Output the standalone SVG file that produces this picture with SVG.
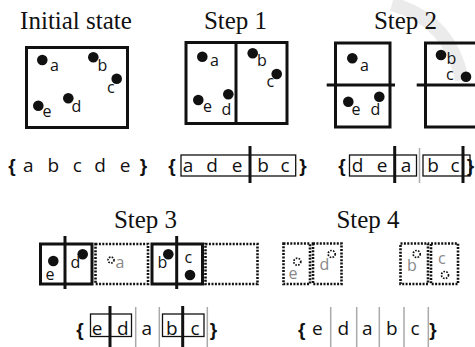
<svg xmlns="http://www.w3.org/2000/svg" width="475" height="347" viewBox="0 0 475 347">
<style>
.title{font-family:"Liberation Serif","Times New Roman",serif;font-size:25px;fill:#111;text-anchor:middle}
.lbl{font-family:"Open Sans","DejaVu Sans",sans-serif;font-size:16px;fill:#111}
.glbl{font-family:"Open Sans","DejaVu Sans",sans-serif;font-size:16px;fill:#888}
.seq{font-family:"Open Sans","DejaVu Sans",sans-serif;font-size:19px;fill:#111;text-anchor:middle}
.br{font-family:"Liberation Sans",Arial,sans-serif;font-size:19px;font-weight:bold;fill:#111;text-anchor:middle}
.box{fill:none;stroke:#111;stroke-width:3}
.dbox{fill:none;stroke:#111;stroke-width:2.6;stroke-dasharray:2 1.4}
.thick{stroke:#111;stroke-width:3}
.sbox{fill:none;stroke:#111;stroke-width:1.3}
.gl{stroke:#aaa;stroke-width:1.5}
.dot{fill:#111}
.ddot{fill:none;stroke:#111;stroke-width:1.7;stroke-dasharray:1.6 1.3}
</style>
<path d="M392,4 Q450,20 462,80" fill="none" stroke="#ddd" stroke-width="14" opacity="0.6"/>
<g id="initial">
<text class="title" x="76" y="29">Initial state</text>
<rect class="box" x="26.5" y="47.5" width="101" height="80"/>
<circle class="dot" cx="42.3" cy="60" r="5.3"/><text class="lbl" x="50" y="71">a</text>
<circle class="dot" cx="93.3" cy="57.3" r="5.3"/><text class="lbl" x="97.5" y="70.7">b</text>
<circle class="dot" cx="116.7" cy="78.7" r="5.3"/><text class="lbl" x="107" y="92.7">c</text>
<circle class="dot" cx="38.3" cy="105.7" r="5.3"/><text class="lbl" x="42.5" y="117">e</text>
<circle class="dot" cx="68.3" cy="98.3" r="5.3"/><text class="lbl" x="71.5" y="111.7">d</text>
</g>
<g id="step1">
<text class="title" x="235.5" y="29">Step 1</text>
<rect class="box" x="186" y="42.5" width="101" height="81"/>
<line class="thick" x1="236" y1="42.5" x2="236" y2="123.5"/>
<circle class="dot" cx="202.3" cy="56.7" r="5.3"/><text class="lbl" x="210" y="66">a</text>
<circle class="dot" cx="252.7" cy="53.3" r="5.3"/><text class="lbl" x="257" y="65.7">b</text>
<circle class="dot" cx="276.7" cy="74" r="5.3"/><text class="lbl" x="266.5" y="87.3">c</text>
<circle class="dot" cx="198.3" cy="100" r="5.3"/><text class="lbl" x="203" y="111.7">e</text>
<circle class="dot" cx="228.3" cy="94.3" r="5.3"/><text class="lbl" x="221.5" y="115">d</text>
</g>
<g id="step2">
<text class="title" x="405.5" y="29">Step 2</text>
<rect class="box" x="335.5" y="43" width="54.5" height="84"/>
<line class="thick" x1="326.7" y1="85" x2="395" y2="85"/>
<circle class="dot" cx="352.3" cy="58.3" r="5.3"/><text class="lbl" x="360" y="70.7">a</text>
<circle class="dot" cx="348.3" cy="101.7" r="5.3"/><text class="lbl" x="351.5" y="115">e</text>
<circle class="dot" cx="379.3" cy="96.7" r="5.3"/><text class="lbl" x="370.5" y="115">d</text>
<rect class="box" x="425.5" y="43" width="52" height="84"/>
<line class="thick" x1="416.7" y1="85" x2="475" y2="85"/>
<circle class="dot" cx="441" cy="55" r="5.3"/><text class="lbl" x="446.5" y="64">b</text>
<circle class="dot" cx="466" cy="76.7" r="5.3"/><text class="lbl" x="446" y="80">c</text>
</g>
<g id="seq0">
<text class="br" x="12" y="172">{</text>
<text class="seq" x="28.3" y="172">a</text>
<text class="seq" x="53.3" y="172">b</text>
<text class="seq" x="77.3" y="172">c</text>
<text class="seq" x="100" y="172">d</text>
<text class="seq" x="125" y="172">e</text>
<text class="br" x="143.5" y="172">}</text>
</g>
<g id="seq1">
<text class="br" x="172" y="172">{</text>
<rect class="sbox" x="181" y="155" width="114.7" height="21"/>
<line class="thick" x1="250" y1="146" x2="250" y2="183"/>
<text class="seq" x="188" y="172">a</text>
<text class="seq" x="212" y="172">d</text>
<text class="seq" x="237" y="172">e</text>
<text class="seq" x="263" y="172">b</text>
<text class="seq" x="285" y="172">c</text>
<text class="br" x="303" y="172">}</text>
</g>
<g id="seq2">
<text class="br" x="342" y="172">{</text>
<rect class="sbox" x="349.5" y="155" width="67" height="21"/>
<line class="thick" x1="394.7" y1="146" x2="394.7" y2="183"/>
<line class="gl" x1="419.5" y1="148" x2="419.5" y2="183"/>
<rect class="sbox" x="423" y="155" width="47" height="21"/>
<line class="thick" x1="463" y1="146" x2="463" y2="183"/>
<text class="seq" x="357.5" y="172">d</text>
<text class="seq" x="382" y="172">e</text>
<text class="seq" x="406" y="172">a</text>
<text class="seq" x="433" y="172">b</text>
<text class="seq" x="455" y="172">c</text>
<text class="br" x="470.5" y="172">}</text>
</g>
<g id="step3">
<text class="title" x="145.5" y="228">Step 3</text>
<rect class="box" x="40.5" y="244" width="51.5" height="40"/>
<line class="thick" x1="65" y1="236" x2="65" y2="289"/>
<circle class="dot" cx="53.3" cy="261" r="5.3"/><text class="lbl" x="45.5" y="280">e</text>
<circle class="dot" cx="82.7" cy="254.3" r="5.3"/><text class="lbl" x="70.5" y="268.3">d</text>
<rect class="dbox" x="95.5" y="244" width="52.5" height="40"/>
<circle class="ddot" cx="111" cy="260" r="3"/><text class="glbl" x="115.5" y="268">a</text>
<rect class="box" x="152" y="244" width="50.5" height="40"/>
<line class="thick" x1="176.7" y1="236" x2="176.7" y2="289"/>
<circle class="dot" cx="168.3" cy="254.3" r="5.3"/><text class="lbl" x="157.5" y="268">b</text>
<circle class="dot" cx="190" cy="275" r="5.3"/><text class="lbl" x="184.5" y="263.3">c</text>
<rect class="dbox" x="205.5" y="244" width="52" height="40"/>
</g>
<g id="step4">
<text class="title" x="368" y="228">Step 4</text>
<rect class="dbox" x="283.5" y="243.5" width="26.5" height="40.5"/>
<circle class="ddot" cx="297.3" cy="261.7" r="3.5"/><text class="glbl" x="288.5" y="279.3">e</text>
<rect class="dbox" x="313" y="243.5" width="28.5" height="40.5"/>
<circle class="ddot" cx="331.7" cy="254" r="3.5"/><text class="glbl" x="319.5" y="270">d</text>
<rect class="dbox" x="400.5" y="243.5" width="27.5" height="40.5"/>
<circle class="ddot" cx="416.7" cy="254" r="3.5"/><text class="glbl" x="407" y="270.7">b</text>
<rect class="dbox" x="431" y="243.5" width="27" height="40.5"/>
<circle class="ddot" cx="445" cy="275" r="3.5"/><text class="glbl" x="438" y="264">c</text>
</g>
<g id="seq3">
<text class="br" x="80" y="336">{</text>
<rect class="sbox" x="90.5" y="314" width="41" height="22.5"/>
<line class="thick" x1="110" y1="306" x2="110" y2="347"/>
<line class="gl" x1="135.7" y1="307" x2="135.7" y2="347"/>
<line class="gl" x1="159.3" y1="307" x2="159.3" y2="347"/>
<rect class="sbox" x="162.5" y="314" width="41.5" height="22.5"/>
<line class="thick" x1="182.7" y1="306" x2="182.7" y2="347"/>
<line class="gl" x1="207.3" y1="307" x2="207.3" y2="347"/>
<text class="seq" x="97" y="335">e</text>
<text class="seq" x="122.7" y="335">d</text>
<text class="seq" x="146.7" y="335">a</text>
<text class="seq" x="171.7" y="335">b</text>
<text class="seq" x="195" y="335">c</text>
<text class="br" x="213.5" y="336">}</text>
</g>
<g id="seq4">
<text class="br" x="301.7" y="336">{</text>
<line class="gl" x1="330.7" y1="307" x2="330.7" y2="347"/>
<line class="gl" x1="356.7" y1="307" x2="356.7" y2="347"/>
<line class="gl" x1="379.3" y1="307" x2="379.3" y2="347"/>
<line class="gl" x1="404" y1="307" x2="404" y2="347"/>
<line class="gl" x1="428.3" y1="307" x2="428.3" y2="347"/>
<text class="seq" x="317.3" y="335">e</text>
<text class="seq" x="343.3" y="335">d</text>
<text class="seq" x="367.3" y="335">a</text>
<text class="seq" x="391.7" y="335">b</text>
<text class="seq" x="415" y="335">c</text>
<text class="br" x="433" y="336">}</text>
</g>
</svg>
